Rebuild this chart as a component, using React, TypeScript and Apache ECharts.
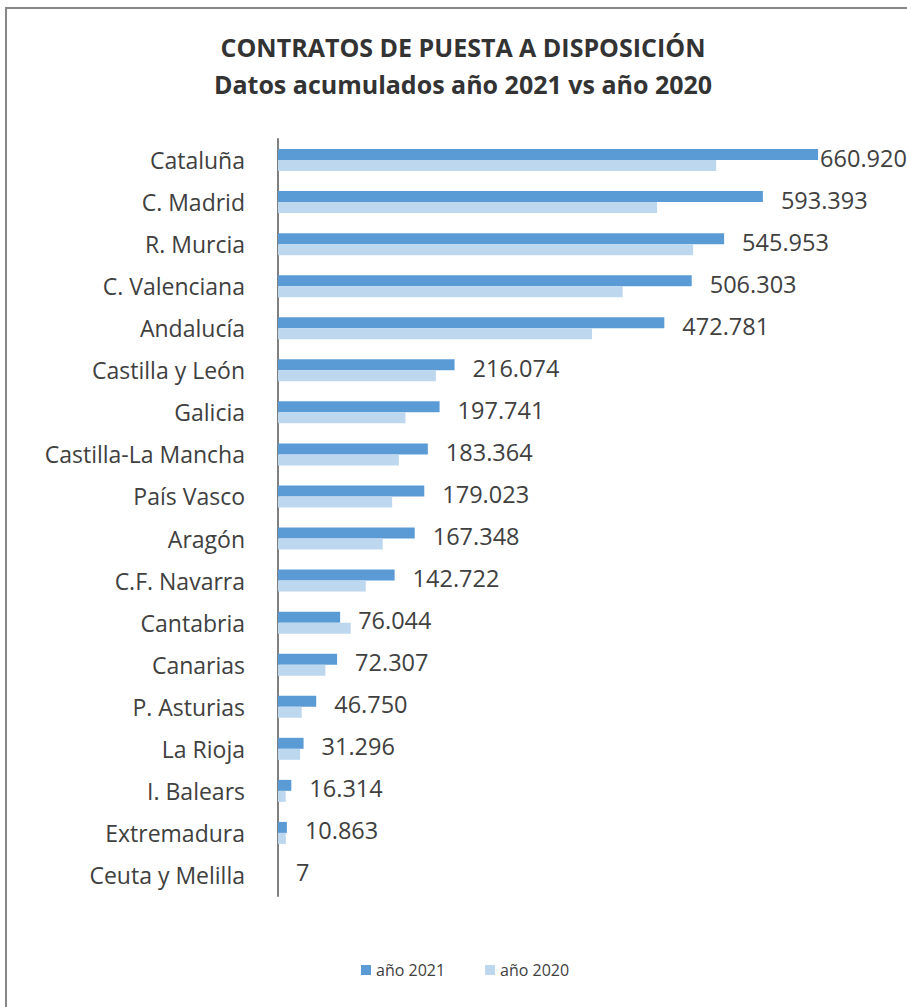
import React, { useEffect, useRef } from "react";
import * as echarts from "echarts";

const categories = [
  "Cataluña", "C. Madrid", "R. Murcia", "C. Valenciana", "Andalucía",
  "Castilla y León", "Galicia", "Castilla-La Mancha", "País Vasco", "Aragón",
  "C.F. Navarra", "Cantabria", "Canarias", "P. Asturias", "La Rioja",
  "I. Balears", "Extremadura", "Ceuta y Melilla",
];
const values2021 = [
  660920, 593393, 545953, 506303, 472781, 216074, 197741, 183364, 179023,
  167348, 142722, 76044, 72307, 46750, 31296, 16314, 10863, 7,
];
const values2020 = [
  536200, 463900, 508000, 421800, 384300, 193200, 156000, 147900, 139700,
  128200, 107400, 89000, 58000, 29000, 27000, 9400, 9600, 5,
];
const seriesNames = ["año 2021", "año 2020"];
const titleLines = ["CONTRATOS DE PUESTA A DISPOSICIÓN", "Datos acumulados año 2021 vs año 2020"];

const fmt = (n: number) => String(n).replace(/\B(?=(\d{3})+(?!\d))/g, ".");
const FONT = "'Open Sans', sans-serif";
const TXT = "#404040";

export default function App() {
  const ref = useRef<HTMLDivElement>(null);
  useEffect(() => {
    document.body.style.margin = "0";
    const chart = echarts.init(ref.current!, null, { renderer: "svg" });
    chart.setOption({
      animation: false,
      backgroundColor: "#ffffff",
      graphic: [
        {
          type: "rect",
          shape: { x: 6, y: 8, width: 1000, height: 1100 },
          style: { fill: "none", stroke: "#878787", lineWidth: 2 },
          silent: true,
        },
        ...titleLines.map((t, i) => ({
          type: "text",
          x: 463,
          y: 47 + i * 37,
          style: {
            text: t,
            fontFamily: FONT,
            fontWeight: "bold",
            fontSize: 25,
            fill: "#333333",
            textAlign: "center",
            textVerticalAlign: "middle",
          },
          silent: true,
        })),
      ],
      legend: {
        data: seriesNames,
        top: 957,
        left: 356,
        icon: "rect",
        itemWidth: 10,
        itemHeight: 10,
        itemGap: 40,
        itemStyle: { borderWidth: 0 },
        textStyle: { fontFamily: FONT, fontSize: 16, color: TXT },
      },
      grid: { left: 278, top: 139, height: 757, width: 572, containLabel: false },
      xAxis: {
        type: "value",
        min: 0,
        max: 700000,
        show: false,
        splitLine: { show: false },
      },
      yAxis: {
        type: "category",
        data: categories,
        inverse: true,
        axisLine: { show: true, lineStyle: { color: "#7f7f7f", width: 2 } },
        axisTick: { show: false },
        axisLabel: {
          fontFamily: FONT,
          fontSize: 23,
          color: TXT,
          margin: 33,
        },
      },
      series: [
        {
          name: seriesNames[0],
          type: "bar",
          barWidth: 11,
          barGap: "0%",
          itemStyle: { color: "#5B9BD5" },
          data: values2021.map((v, i) =>
            i === 0 ? { value: v, label: { distance: 2 } } : v
          ),
          label: {
            show: true,
            position: "right",
            distance: 18,
            offset: [0, 3],
            fontFamily: FONT,
            fontSize: 23.5,
            color: TXT,
            formatter: (p: any) => fmt(p.value),
          },
        },
        {
          name: seriesNames[1],
          type: "bar",
          barWidth: 11,
          barGap: "0%",
          itemStyle: { color: "#BDD7EE" },
          data: values2020,
        },
      ],
    });
    return () => chart.dispose();
  }, []);
  return <div ref={ref} style={{ width: 907, height: 1007 }} />;
}
